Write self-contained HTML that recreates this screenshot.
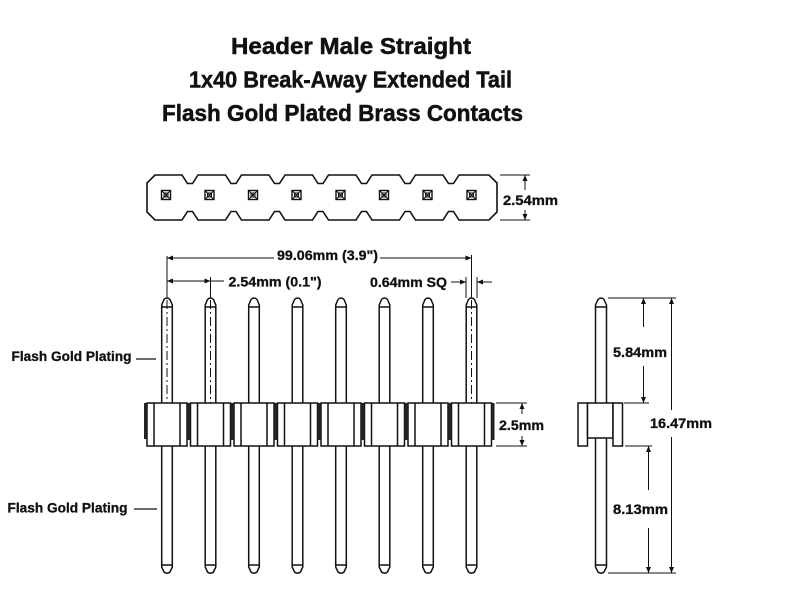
<!DOCTYPE html>
<html>
<head>
<meta charset="utf-8">
<style>
  html,body{margin:0;padding:0;background:#fff;}
  svg{display:block;}
  text{font-family:"Liberation Sans",Arial,sans-serif;font-weight:bold;fill:#111;}
  .t{stroke:#111;stroke-width:0.5;}
  .l{stroke:#111;stroke-width:0.3;}
</style>
</head>
<body>
<svg width="800" height="600" viewBox="0 0 800 600" xmlns="http://www.w3.org/2000/svg">
  <rect width="800" height="600" fill="#fff"/>

  <!-- Titles -->
  <text class="t" x="231" y="54" font-size="23" textLength="240" lengthAdjust="spacingAndGlyphs">Header Male Straight</text>
  <text class="t" x="189" y="87.5" font-size="23" textLength="323" lengthAdjust="spacingAndGlyphs">1x40 Break-Away Extended Tail</text>
  <text class="t" x="162" y="121" font-size="23" textLength="361" lengthAdjust="spacingAndGlyphs">Flash Gold Plated Brass Contacts</text>

  <!-- Top view outline -->
  <path fill="#fff" stroke="#111" stroke-width="1.6" stroke-linejoin="miter" d="
    M155,175
    L182,175 L187.5,183.5 L192.5,183.5 L198,175
    L225.5,175 L231,183.5 L236,183.5 L241.5,175
    L269,175 L274.5,183.5 L279.5,183.5 L285,175
    L312.5,175 L318,183.5 L323,183.5 L328.5,175
    L356,175 L361.5,183.5 L366.5,183.5 L372,175
    L399.5,175 L405,183.5 L410,183.5 L415.5,175
    L443,175 L448.5,183.5 L453.5,183.5 L459,175
    L489,175 L497,183 L497,212 L489,220
    L459,220 L453.5,211.5 L448.5,211.5 L443,220
    L415.5,220 L410,211.5 L405,211.5 L399.5,220
    L372,220 L366.5,211.5 L361.5,211.5 L356,220
    L328.5,220 L323,211.5 L318,211.5 L312.5,220
    L285,220 L279.5,211.5 L274.5,211.5 L269,220
    L241.5,220 L236,211.5 L231,211.5 L225.5,220
    L198,220 L192.5,211.5 L187.5,211.5 L182,220
    L155,220 L147,212 L147,183 Z"/>

  <!-- Top view squares -->
  <g stroke="#111" stroke-width="1" fill="none">
    <g transform="translate(166,195)"><rect x="-4.5" y="-4.5" width="9" height="9" stroke-width="1.4"/><rect x="-2" y="-2" width="4" height="4"/><path d="M-4.5,-4.5L4.5,4.5M4.5,-4.5L-4.5,4.5"/></g>
    <g transform="translate(209.5,195)"><rect x="-4.5" y="-4.5" width="9" height="9" stroke-width="1.4"/><rect x="-2" y="-2" width="4" height="4"/><path d="M-4.5,-4.5L4.5,4.5M4.5,-4.5L-4.5,4.5"/></g>
    <g transform="translate(253,195)"><rect x="-4.5" y="-4.5" width="9" height="9" stroke-width="1.4"/><rect x="-2" y="-2" width="4" height="4"/><path d="M-4.5,-4.5L4.5,4.5M4.5,-4.5L-4.5,4.5"/></g>
    <g transform="translate(296.5,195)"><rect x="-4.5" y="-4.5" width="9" height="9" stroke-width="1.4"/><rect x="-2" y="-2" width="4" height="4"/><path d="M-4.5,-4.5L4.5,4.5M4.5,-4.5L-4.5,4.5"/></g>
    <g transform="translate(340.5,195)"><rect x="-4.5" y="-4.5" width="9" height="9" stroke-width="1.4"/><rect x="-2" y="-2" width="4" height="4"/><path d="M-4.5,-4.5L4.5,4.5M4.5,-4.5L-4.5,4.5"/></g>
    <g transform="translate(384,195)"><rect x="-4.5" y="-4.5" width="9" height="9" stroke-width="1.4"/><rect x="-2" y="-2" width="4" height="4"/><path d="M-4.5,-4.5L4.5,4.5M4.5,-4.5L-4.5,4.5"/></g>
    <g transform="translate(427.5,195)"><rect x="-4.5" y="-4.5" width="9" height="9" stroke-width="1.4"/><rect x="-2" y="-2" width="4" height="4"/><path d="M-4.5,-4.5L4.5,4.5M4.5,-4.5L-4.5,4.5"/></g>
    <g transform="translate(471.5,195)"><rect x="-4.5" y="-4.5" width="9" height="9" stroke-width="1.4"/><rect x="-2" y="-2" width="4" height="4"/><path d="M-4.5,-4.5L4.5,4.5M4.5,-4.5L-4.5,4.5"/></g>
  </g>

  <!-- Top view dimension 2.54mm -->
  <g stroke="#111" stroke-width="1" fill="none">
    <path d="M500,175H530M500,220H530M525,175V190M525,210V220"/>
  </g>
  <g fill="#111">
    <polygon points="525,175 522.5,181 527.5,181"/>
    <polygon points="525,220 522.5,214 527.5,214"/>
  </g>
  <text class="l" x="503" y="205" font-size="14" textLength="55" lengthAdjust="spacingAndGlyphs">2.54mm</text>

  <!-- Front view pins -->
  <g stroke="#111" stroke-width="1.5" fill="#fff">
    <g transform="translate(167,0)"><path d="M-5.3,307V403M5.3,307V403M-5.3,446V565M5.3,446V565"/><path d="M-5.3,307V305L-3,299.5Q0,296.5 3,299.5L5.3,305V307Z"/><path d="M-5.3,565V567L-3,572Q0,574.5 3,572L5.3,567V565Z"/></g>
    <g transform="translate(210.5,0)"><path d="M-5.3,307V403M5.3,307V403M-5.3,446V565M5.3,446V565"/><path d="M-5.3,307V305L-3,299.5Q0,296.5 3,299.5L5.3,305V307Z"/><path d="M-5.3,565V567L-3,572Q0,574.5 3,572L5.3,567V565Z"/></g>
    <g transform="translate(254,0)"><path d="M-5.3,307V403M5.3,307V403M-5.3,446V565M5.3,446V565"/><path d="M-5.3,307V305L-3,299.5Q0,296.5 3,299.5L5.3,305V307Z"/><path d="M-5.3,565V567L-3,572Q0,574.5 3,572L5.3,567V565Z"/></g>
    <g transform="translate(297.5,0)"><path d="M-5.3,307V403M5.3,307V403M-5.3,446V565M5.3,446V565"/><path d="M-5.3,307V305L-3,299.5Q0,296.5 3,299.5L5.3,305V307Z"/><path d="M-5.3,565V567L-3,572Q0,574.5 3,572L5.3,567V565Z"/></g>
    <g transform="translate(341,0)"><path d="M-5.3,307V403M5.3,307V403M-5.3,446V565M5.3,446V565"/><path d="M-5.3,307V305L-3,299.5Q0,296.5 3,299.5L5.3,305V307Z"/><path d="M-5.3,565V567L-3,572Q0,574.5 3,572L5.3,567V565Z"/></g>
    <g transform="translate(384.5,0)"><path d="M-5.3,307V403M5.3,307V403M-5.3,446V565M5.3,446V565"/><path d="M-5.3,307V305L-3,299.5Q0,296.5 3,299.5L5.3,305V307Z"/><path d="M-5.3,565V567L-3,572Q0,574.5 3,572L5.3,567V565Z"/></g>
    <g transform="translate(428,0)"><path d="M-5.3,307V403M5.3,307V403M-5.3,446V565M5.3,446V565"/><path d="M-5.3,307V305L-3,299.5Q0,296.5 3,299.5L5.3,305V307Z"/><path d="M-5.3,565V567L-3,572Q0,574.5 3,572L5.3,567V565Z"/></g>
    <g transform="translate(471.5,0)"><path d="M-5.3,307V403M5.3,307V403M-5.3,446V565M5.3,446V565"/><path d="M-5.3,307V305L-3,299.5Q0,296.5 3,299.5L5.3,305V307Z"/><path d="M-5.3,565V567L-3,572Q0,574.5 3,572L5.3,567V565Z"/></g>
  </g>

  <!-- Dashed center lines in pins 1,2,8 -->
  <g stroke="#111" stroke-width="1" stroke-dasharray="9 3 2 3" fill="none">
    <path d="M167,300V403M210.5,300V403M471.5,300V403"/>
  </g>

  <!-- Front view housing -->
  <g stroke="#111" stroke-width="1.5" fill="#fff">
    <rect x="147" y="403" width="40" height="43"/>
    <rect x="190.5" y="403" width="40" height="43"/>
    <rect x="234" y="403" width="40" height="43"/>
    <rect x="277.5" y="403" width="40" height="43"/>
    <rect x="321" y="403" width="40" height="43"/>
    <rect x="364.5" y="403" width="40" height="43"/>
    <rect x="408" y="403" width="40" height="43"/>
    <rect x="451.5" y="403" width="40" height="43"/>
    <path fill="none" d="M154,403V446M180,403V446M197.5,403V446M223.5,403V446M241,403V446M267,403V446M284.5,403V446M310.5,403V446M328,403V446M354,403V446M371.5,403V446M397.5,403V446M415,403V446M441,403V446M458.5,403V446M484.5,403V446"/>
  </g>
  <g fill="#222">
    <rect x="144" y="403" width="3" height="36"/>
    <rect x="187" y="403" width="3.5" height="37"/>
    <rect x="230.5" y="403" width="3.5" height="37"/>
    <rect x="274" y="403" width="3.5" height="37"/>
    <rect x="317.5" y="403" width="3.5" height="37"/>
    <rect x="361" y="403" width="3.5" height="37"/>
    <rect x="404.5" y="403" width="3.5" height="37"/>
    <rect x="448" y="403" width="3.5" height="37"/>
    <rect x="491.5" y="403" width="3" height="37"/>
  </g>

  <!-- Front view dimension lines -->
  <g stroke="#111" stroke-width="1" fill="none">
    <path d="M167,256V298M471.5,255V298M167,258H274M380,258H471.5"/>
    <path d="M210.5,277V298M167,281H224"/>
    <path d="M466,277V298M477,277V298M451,282H466M477,282H492"/>
    <path d="M496,403H527M496,446H527M522,403V414M522,436V446"/>
  </g>
  <g fill="#111">
    <polygon points="167,258 173,255.5 173,260.5"/>
    <polygon points="471.5,258 465.5,255.5 465.5,260.5"/>
    <polygon points="167,281 173,278.5 173,283.5"/>
    <polygon points="210.5,281 204.5,278.5 204.5,283.5"/>
    <polygon points="466,282 460,279.5 460,284.5"/>
    <polygon points="477,282 483,279.5 483,284.5"/>
    <polygon points="522,403 519.5,409 524.5,409"/>
    <polygon points="522,446 519.5,440 524.5,440"/>
  </g>
  <text class="l" x="277" y="260" font-size="14" textLength="101" lengthAdjust="spacingAndGlyphs">99.06mm (3.9")</text>
  <text class="l" x="228.5" y="286.5" font-size="14" textLength="93" lengthAdjust="spacingAndGlyphs">2.54mm (0.1")</text>
  <text class="l" x="370" y="287" font-size="14" textLength="77" lengthAdjust="spacingAndGlyphs">0.64mm SQ</text>
  <text class="l" x="499" y="430" font-size="14" textLength="45" lengthAdjust="spacingAndGlyphs">2.5mm</text>

  <!-- Labels -->
  <text class="l" x="11.5" y="361" font-size="14" textLength="120" lengthAdjust="spacingAndGlyphs">Flash Gold Plating</text>
  <path d="M136,359H156" stroke="#111" stroke-width="1.2"/>
  <text class="l" x="7.5" y="512.5" font-size="14" textLength="120" lengthAdjust="spacingAndGlyphs">Flash Gold Plating</text>
  <path d="M134,509H157" stroke="#111" stroke-width="1.2"/>

  <!-- Side view -->
  <g stroke="#111" stroke-width="1.5" fill="#fff">
    <path d="M595.5,307V403M606.5,307V403M595.5,438V565M606.5,438V565"/>
    <path d="M595.5,307V305L598,299.5Q601,296.5 604,299.5L606.5,305V307Z"/>
    <path d="M595.5,565V567L598,572Q601,574.5 604,572L606.5,567V565Z"/>
    <rect x="578" y="403" width="9.5" height="43"/>
    <rect x="587.5" y="403" width="25.5" height="35"/>
    <rect x="613" y="403" width="9.5" height="43"/>
  </g>
  <g stroke="#111" stroke-width="1" fill="none">
    <path d="M608,298H676M608,573H676M624,403H649M625,446H652"/>
    <path d="M643.5,298V327M643.5,366V403"/>
    <path d="M648.5,446V490M648.5,528V573"/>
    <path d="M671.5,298V410M671.5,437V573"/>
  </g>
  <g fill="#111">
    <polygon points="643.5,298 641,304 646,304"/>
    <polygon points="643.5,403 641,397 646,397"/>
    <polygon points="648.5,446 646,452 651,452"/>
    <polygon points="648.5,573 646,567 651,567"/>
    <polygon points="671.5,298 669,304 674,304"/>
    <polygon points="671.5,573 669,567 674,567"/>
  </g>
  <text class="l" x="613" y="357" font-size="14" textLength="54" lengthAdjust="spacingAndGlyphs">5.84mm</text>
  <text class="l" x="650" y="428" font-size="14" textLength="62" lengthAdjust="spacingAndGlyphs">16.47mm</text>
  <text class="l" x="613" y="514" font-size="14" textLength="55" lengthAdjust="spacingAndGlyphs">8.13mm</text>
</svg>
</body>
</html>
